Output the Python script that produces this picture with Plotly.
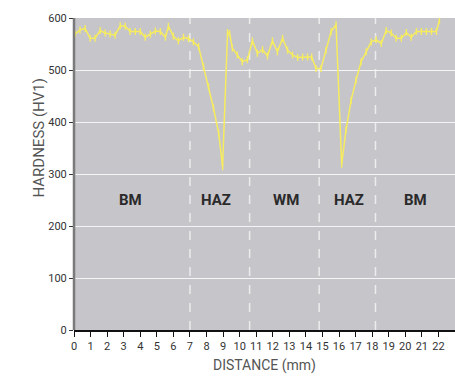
import plotly.graph_objects as go

# Hardness traverse across the weld (HV1 vs distance in mm)
distance_mm = [
    0.06, 0.36, 0.67, 0.97, 1.27, 1.58, 1.88, 2.18, 2.48, 2.79,
    3.09, 3.39, 3.70, 4.00, 4.30, 4.61, 4.91, 5.21, 5.52, 5.70,
    6.00, 6.30, 6.61, 6.91, 7.21, 7.52, 7.82, 8.12, 8.42, 8.73,
    8.97, 9.27, 9.39, 9.56, 9.86, 10.16, 10.47, 10.77, 11.07, 11.38,
    11.68, 11.98, 12.28, 12.59, 12.89, 13.19, 13.50, 13.80, 14.10, 14.35,
    14.61, 14.91, 15.21, 15.52, 15.82, 16.16, 16.42, 16.73, 17.03, 17.33,
    17.64, 17.94, 18.24, 18.55, 18.85, 19.15, 19.45, 19.76, 20.06, 20.36,
    20.67, 20.97, 21.27, 21.58, 21.88, 22.06,
]
hardness_hv1 = [
    569, 577, 580, 561, 561, 576, 571, 569, 567, 585,
    584, 574, 574, 574, 563, 569, 575, 574, 563, 584,
    565, 556, 563, 560, 554, 545, 506, 468, 427, 379,
    314, 572, 570, 542, 529, 516, 520, 556, 532, 539,
    527, 556, 535, 561, 538, 529, 524, 525, 525, 525,
    503, 503, 538, 574, 587, 319, 385, 442, 481, 516,
    535, 554, 558, 551, 576, 571, 561, 561, 572, 563,
    574, 574, 574, 574, 574, 596,
]

# Zone boundaries and zone labels
zone_boundaries = [7.0, 10.6, 14.8, 18.2]
zone_names = ["BM", "HAZ", "WM", "HAZ", "BM"]
zone_centers = [3.4, 8.6, 12.8, 16.6, 20.6]
zone_label_y = 250

x_ticks = list(range(0, 24))
y_ticks = [0, 100, 200, 300, 400, 500, 600]

fig = go.Figure()
fig.add_trace(go.Scatter(
    x=distance_mm, y=hardness_hv1,
    mode="lines+markers",
    line=dict(color="#f6ec5e", width=1.5),
    marker=dict(symbol="line-ns", size=5, line=dict(color="#f6ec5e", width=1.4)),
    showlegend=False, hoverinfo="skip",
))

shapes = [
    dict(type="line", xref="x", yref="y", x0=b, x1=b, y0=0, y1=600,
         line=dict(color="#ececec", width=1.5, dash="dash"), layer="below")
    for b in zone_boundaries
]
# dark left spine
shapes.append(dict(type="line", xref="paper", yref="paper", x0=0, x1=0, y0=0, y1=1,
                   line=dict(color="#7a7a7a", width=2.5)))

annotations = [
    dict(x=cx, y=zone_label_y, text=name, showarrow=False, xref="x", yref="y",
         font=dict(family="Roboto, sans-serif", size=15, color="#2a2a2a", weight="bold"))
    for cx, name in zip(zone_centers, zone_names)
]
# vertical axis title, set left of the tick labels
annotations.append(dict(
    x=-0.092, y=370, xref="paper", yref="y", text="HARDNESS (HV1)",
    showarrow=False, textangle=-90, xanchor="center", yanchor="middle",
    font=dict(family="Roboto, sans-serif", size=15, color="#555"),
))

fig.update_layout(
    width=455, height=376,
    margin=dict(l=74, r=0, t=18, b=46),
    paper_bgcolor="white",
    plot_bgcolor="#c6c5ca",
    font=dict(family="Roboto, sans-serif", color="#444"),
    shapes=shapes,
    annotations=annotations,
    xaxis=dict(
        range=[0, 23.0], tickvals=x_ticks, ticktext=[str(t) for t in x_ticks],
        showgrid=False, zeroline=False,
        showline=True, linecolor="#111", linewidth=1.5,
        ticks="outside", ticklen=5, tickcolor="#111", tickwidth=1,
        tickfont=dict(size=11, color="#333"),
        title=dict(text="DISTANCE (mm)", font=dict(size=14, color="#555"), standoff=8),
    ),
    yaxis=dict(
        range=[0, 600], tickvals=y_ticks,
        showgrid=True, gridcolor="#f4f4f4", gridwidth=1.2,
        zeroline=False, showline=False,
        ticks="outside", ticklen=4, tickcolor="#333", tickwidth=1,
        tickfont=dict(size=11, color="#333"),
    ),
)

fig.write_html("out.html")
